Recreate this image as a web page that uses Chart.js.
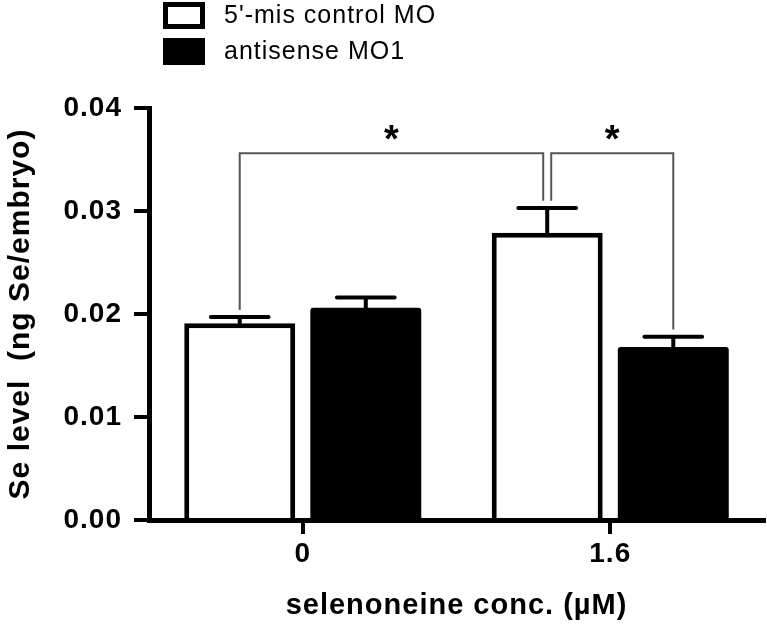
<!DOCTYPE html>
<html>
<head>
<meta charset="utf-8">
<title>Se level</title>
<script src="https://cdn.jsdelivr.net/npm/chart.js@4.4.1/dist/chart.umd.min.js"></script>
<style>
  body { margin: 0; background: #fff; }
  #wrap { width: 767px; height: 624px; }
</style>
</head>
<body>
<div id="wrap"><canvas id="chart" width="767" height="624"></canvas></div>
<script>
// data
var categories = ['0', '1.6'];
var seriesNames = ["5'-mis control MO", 'antisense MO1'];
var controlMeans = [0.0191, 0.0279];
var controlErr = [0.0006, 0.0024];
var antisenseMeans = [0.0206, 0.0168];
var antisenseErr = [0.0010, 0.0010];
var yTickValues = [0, 0.01, 0.02, 0.03, 0.04];
// significance brackets: [dataset, category] pairs, bracket height, label
var comparisons = [
  {a: [0, 0], b: [0, 1], y: 0.0356, label: '*'},
  {a: [0, 1], b: [1, 1], y: 0.0356, label: '*'}
];
var errors = [controlErr, antisenseErr];

var family = 'Liberation Sans, Arial, sans-serif';
var boldFont = {family: family, size: 28, weight: 'bold'};

var spacing = {
  id: 'spacing',
  beforeLayout: function(chart) { chart.ctx.letterSpacing = '1px'; },
  beforeDraw: function(chart) { chart.ctx.letterSpacing = '1px'; }
};

var extras = {
  id: 'extras',
  afterDatasetsDraw: function(chart) {
    var ctx = chart.ctx;
    var ys = chart.scales.y;
    ctx.save();
    // error bars (upper only)
    ctx.strokeStyle = '#000';
    ctx.lineWidth = 4;
    ctx.lineCap = 'round';
    chart.data.datasets.forEach(function(ds, di) {
      chart.getDatasetMeta(di).data.forEach(function(bar, i) {
        var top = ys.getPixelForValue(ds.data[i] + errors[di][i]);
        var half = bar.width * 0.26;
        ctx.beginPath();
        ctx.moveTo(bar.x, bar.y);
        ctx.lineTo(bar.x, top);
        ctx.moveTo(bar.x - half, top);
        ctx.lineTo(bar.x + half, top);
        ctx.stroke();
      });
    });
    // brackets
    ctx.strokeStyle = '#555';
    ctx.lineWidth = 2;
    ctx.lineCap = 'butt';
    ctx.fillStyle = '#000';
    ctx.font = 'bold 38px ' + family;
    ctx.textAlign = 'center';
    ctx.textBaseline = 'middle';
    ctx.letterSpacing = '0px';
    comparisons.forEach(function(c, ci) {
      var pa = chart.getDatasetMeta(c.a[0]).data[c.a[1]];
      var pb = chart.getDatasetMeta(c.b[0]).data[c.b[1]];
      var xa = pa.x, xb = pb.x;
      // the two brackets sharing a bar sit a little apart
      if (ci === 0) xb -= 4;
      if (ci === 1) xa += 4;
      var va = chart.data.datasets[c.a[0]].data[c.a[1]] + errors[c.a[0]][c.a[1]] + 0.0007;
      var vb = chart.data.datasets[c.b[0]].data[c.b[1]] + errors[c.b[0]][c.b[1]] + 0.0007;
      var yl = ys.getPixelForValue(c.y);
      ctx.beginPath();
      ctx.moveTo(xa, ys.getPixelForValue(va));
      ctx.lineTo(xa, yl);
      ctx.lineTo(xb, yl);
      ctx.lineTo(xb, ys.getPixelForValue(vb));
      ctx.stroke();
      ctx.fillText(c.label, (xa + xb) / 2, yl - 12);
    });
    ctx.restore();
  },
  afterDraw: function(chart) {
    // legend, stacked at top left
    var ctx = chart.ctx;
    ctx.save();
    ctx.letterSpacing = '1px';
    ctx.font = '25px ' + family;
    ctx.textBaseline = 'middle';
    ctx.textAlign = 'left';
    chart.data.datasets.forEach(function(ds, i) {
      var top = 2 + i * 36;
      ctx.fillStyle = ds.backgroundColor;
      ctx.fillRect(163, top, 42, 27);
      if (ds.borderWidth) {
        ctx.strokeStyle = ds.borderColor;
        ctx.lineWidth = 5;
        ctx.strokeRect(165.5, top + 2.5, 37, 22);
      }
      ctx.fillStyle = '#000';
      ctx.fillText(ds.label, 224, top + 14);
    });
    ctx.restore();
  }
};

new Chart(document.getElementById('chart'), {
  type: 'bar',
  data: {
    labels: categories,
    datasets: [
      {label: seriesNames[0], data: controlMeans, backgroundColor: '#fff', borderColor: '#000', borderWidth: 5},
      {label: seriesNames[1], data: antisenseMeans, backgroundColor: '#000', borderColor: '#000', borderWidth: 0,
       borderRadius: {topLeft: 3, topRight: 3}}
    ]
  },
  options: {
    responsive: false,
    devicePixelRatio: 1,
    animation: false,
    categoryPercentage: 0.82,
    barPercentage: 0.88,
    layout: {padding: {top: 108, right: 3, left: 0, bottom: 0}},
    plugins: {legend: {display: false}, tooltip: {enabled: false}},
    scales: {
      x: {
        grid: {offset: false, drawOnChartArea: false, color: '#000', lineWidth: 4, tickLength: 14},
        border: {color: '#000', width: 5, z: 1},
        ticks: {color: '#000', font: boldFont, padding: 3},
        title: {display: true, text: 'selenoneine conc. (\u00b5M)', color: '#000',
                font: {family: family, size: 29, weight: 'bold', lineHeight: 1},
                padding: {top: 0, bottom: 4}},
        afterFit: function(s) { s.height = 104; }
      },
      y: {
        min: 0,
        max: 0.04,
        afterBuildTicks: function(s) { s.ticks = yTickValues.map(function(v) { return {value: v}; }); },
        ticks: {color: '#000', font: boldFont, padding: 12, callback: function(v) { return v.toFixed(2); }},
        grid: {drawOnChartArea: false, color: '#000', lineWidth: 4, tickLength: 15},
        border: {color: '#000', width: 5, z: 1},
        title: {display: true, text: 'Se level  (ng Se/embryo)', color: '#000',
                font: {family: family, size: 30, weight: 'bold', lineHeight: 1},
                padding: {top: 6, bottom: 0}},
        afterFit: function(s) { s.width = 149; }
      }
    }
  },
  plugins: [spacing, extras]
});
</script>
</body>
</html>
